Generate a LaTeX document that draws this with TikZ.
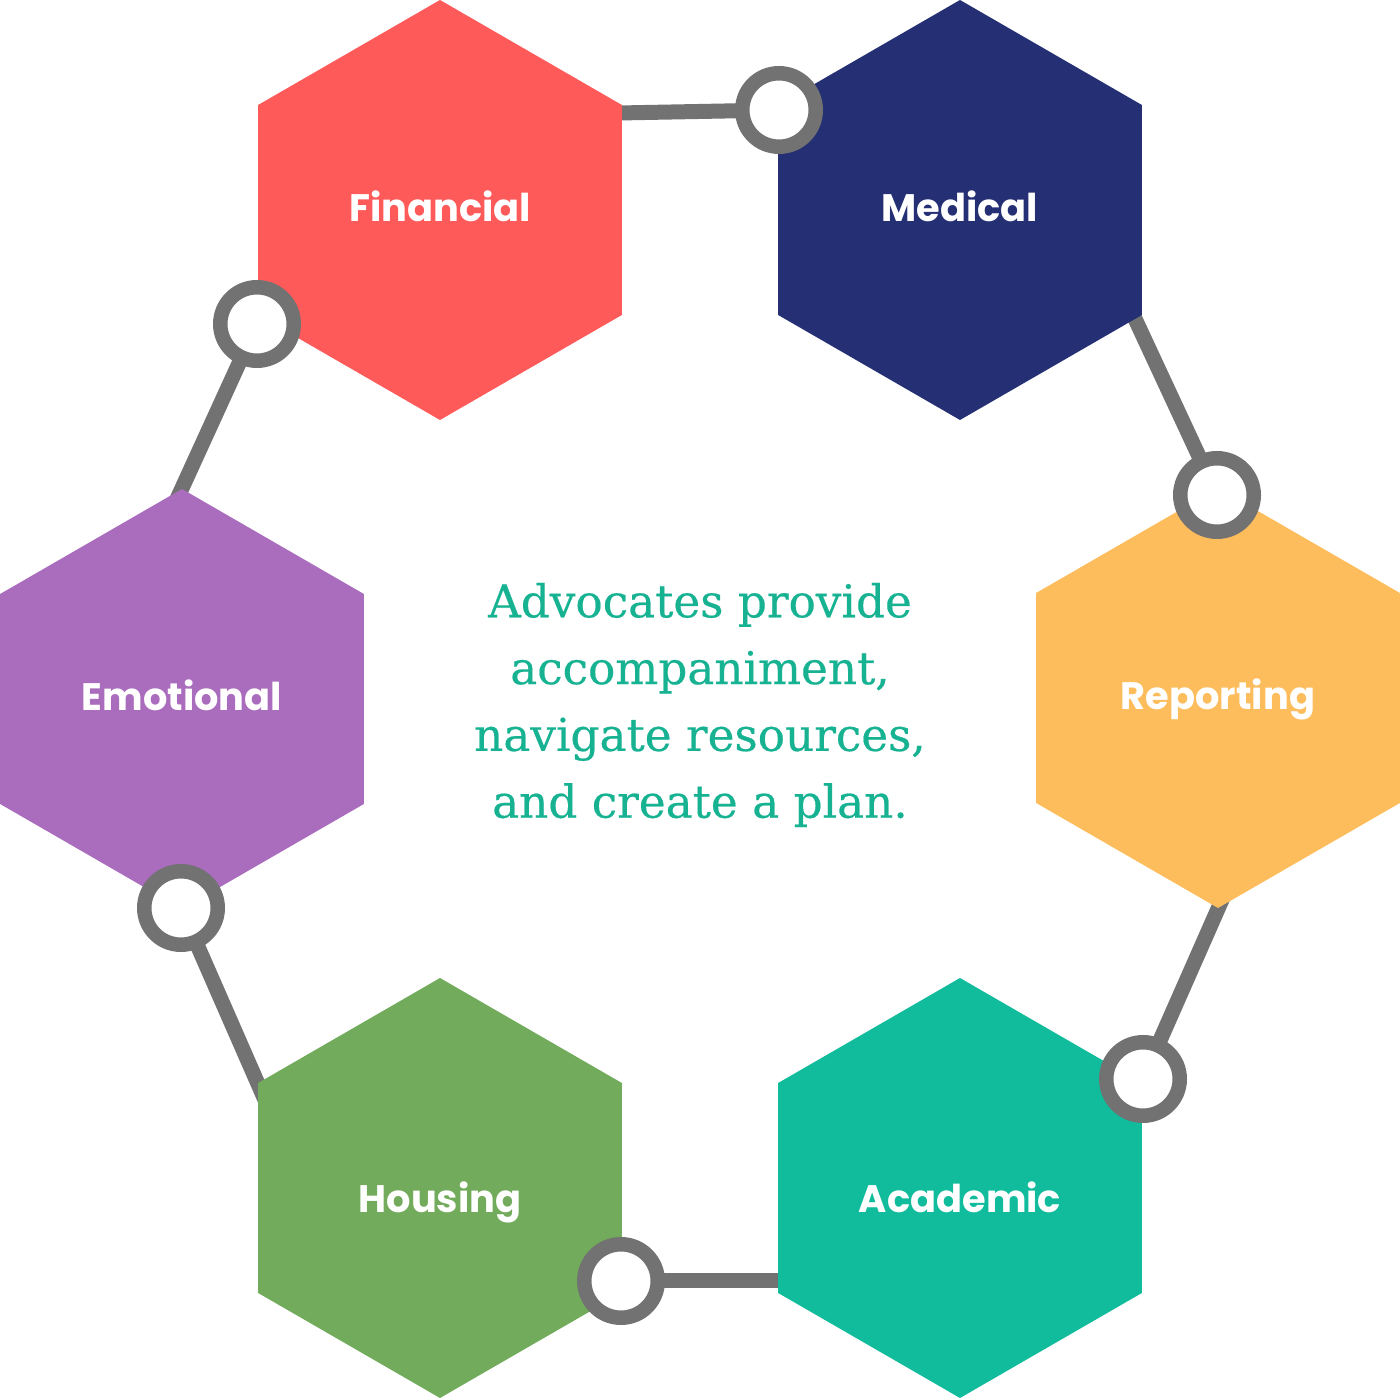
\documentclass[tikz,border=0pt]{standalone}
\usepackage{fontspec}
\newfontfamily\hexfont{Poppins}
\newfontfamily\slabfont{DejaVu Serif}[FakeBold=0.4]
\usetikzlibrary{%
  shapes.geometric,% regular polygon
  backgrounds% links behind
}
\definecolor{finred}{HTML}{FF5A5A}
\definecolor{mednavy}{HTML}{242F74}
\definecolor{repamber}{HTML}{FDBD5C}
\definecolor{acateal}{HTML}{10BC9C}
\definecolor{hougreen}{HTML}{73AB5C}
\definecolor{emopurple}{HTML}{AA6CBD}
\definecolor{ringgray}{HTML}{727272}
\definecolor{advteal}{HTML}{17B292}

\begin{document}
\begin{tikzpicture}
[hexa/.style={regular polygon, regular polygon sides=6, shape border rotate=30, minimum size=4.2cm, inner sep=0pt, text=white, text height=0.26cm, text depth=0.02cm, font=\hexfont\bfseries\fontsize{10.9}{12}\selectfont},
ring/.style={circle, draw=ringgray, fill=white, line width=0.145cm, inner sep=0pt, minimum size=0.735cm},
link/.style={draw=ringgray, line width=0.15cm, shorten <=-0.3cm, shorten >=-0.3cm}]

\useasboundingbox (0,0) rectangle (14,14);

\node[hexa, fill=finred] (fin) at (4.40,11.90) {Financial};
\node[hexa, fill=mednavy] (med) at (9.60,11.90) {Medical};
\node[hexa, fill=repamber] (rep) at (12.18,7.02) {Reporting};
\node[hexa, fill=acateal] (aca) at (9.60,2.12) {\raisebox{-0.13cm}{Academic}};
\node[hexa, fill=hougreen] (hou) at (4.40,2.12) {\raisebox{-0.13cm}{Housing}};
\node[hexa, fill=emopurple] (emo) at (1.82,7.01) {Emotional};

\node[text=advteal, align=center, font=\slabfont\fontsize{12.9}{19}\selectfont] (advice) at (7.00,6.95)
  {Advocates provide\\accompaniment,\\navigate resources,\\and create a plan.};

\node[ring] (r1) at (7.79,12.90) {};
\node[ring] (r2) at (2.57,10.76) {};
\node[ring] (r3) at (12.17,9.05) {};
\node[ring] (r4) at (1.81,4.92) {};
\node[ring] (r5) at (11.43,3.21) {};
\node[ring] (r6) at (6.21,1.19) {};

\begin{scope}[on background layer]
\draw[link] (fin.28) -- (r1.center);
\draw[link] (med.-32) -- (r3.center);
\draw[link] (r2.center) -- (emo.90);
\draw[link] (rep.-90) -- (r5.center);
\draw[link] (r4.center) -- (hou.150);
\draw[link] (r6.center) -- (r6 -| aca.center);
\end{scope}
\end{tikzpicture}
\end{document}
